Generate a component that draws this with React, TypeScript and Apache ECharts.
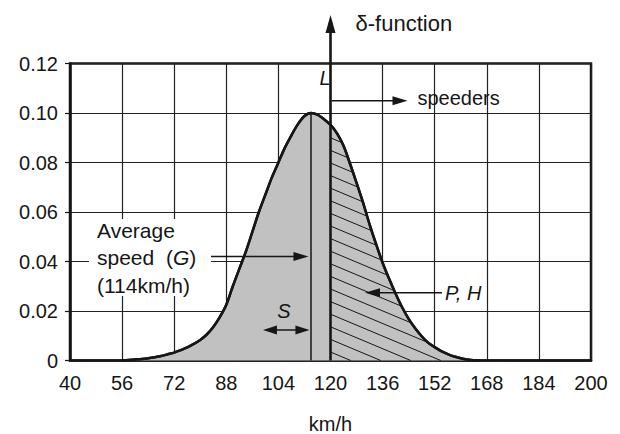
import React, { useEffect, useRef } from "react";
import * as echarts from "echarts";

// Speed (km/h) and probability density
const speeds = [
  56, 58, 60, 62, 64, 66, 68, 70, 72, 74, 76, 78, 80, 82, 84, 86, 88, 90, 92, 94,
  96, 98, 100, 102, 104, 106, 108, 110, 112, 114, 116, 118, 120, 122, 124, 126,
  128, 130, 132, 134, 136, 138, 140, 142, 144, 146, 148, 150, 152, 154, 156, 158,
  160, 162, 164, 166,
];
const density = [
  0, 0.0002, 0.0004, 0.0006, 0.0009, 0.0013, 0.0018, 0.0025, 0.0032, 0.0042,
  0.0053, 0.0067, 0.0083, 0.0105, 0.0135, 0.0175, 0.0225, 0.03, 0.037, 0.044,
  0.052, 0.06, 0.067, 0.074, 0.08, 0.086, 0.091, 0.0955, 0.0988, 0.1, 0.0993,
  0.0975, 0.0952, 0.0918, 0.0868, 0.0795, 0.0718, 0.0638, 0.055, 0.047, 0.0395,
  0.033, 0.027, 0.0215, 0.0168, 0.013, 0.0098, 0.0072, 0.0054, 0.0038, 0.0026,
  0.0016, 0.0009, 0.0004, 0.0001, 0,
];
const xMin = 40;
const xMax = 200;
const xStep = 16;
const yMin = 0;
const yMax = 0.12;
const yStep = 0.02;
const averageSpeed = 114;
const peakDensity = 0.1;
const limitSpeed = 120;

const FONT = "'Liberation Sans', Arial, Helvetica, sans-serif";
const INK = "#161616";
const GRAY = "#c1c1c1";

export default function App() {
  const ref = useRef<HTMLDivElement>(null);

  useEffect(() => {
    const chart = echarts.init(ref.current!, null, { renderer: "svg" });
    const curve = speeds.map((s, i) => [s, density[i]]);
    const hatchCurve = curve.filter(([s]) => s >= limitSpeed);

    const renderHatch = (_params: any, api: any) => {
      const pts = hatchCurve.map(([s, v]) => api.coord([s, v]) as number[]);
      const [xs, yBase] = api.coord([limitSpeed, 0]) as number[];
      const curveYAt = (x: number) => {
        for (let i = 0; i < pts.length - 1; i++) {
          const [xa, ya] = pts[i];
          const [xb, yb] = pts[i + 1];
          if (x >= xa && x <= xb) return ya + ((yb - ya) * (x - xa)) / (xb - xa);
        }
        return yBase;
      };
      const m = 0.42;
      const gap = 12.6;
      const children: any[] = [];
      for (let c = yBase - 8.5; c > curveYAt(xs) + 1; c -= gap) {
        let x = xs;
        let xe = xs;
        while (x < xs + 400) {
          const y = c + m * (x - xs);
          if (y >= yBase) {
            xe = xs + (yBase - c) / m;
            break;
          }
          if (y <= curveYAt(x)) {
            xe = x;
            break;
          }
          x += 0.25;
        }
        children.push({
          type: "line",
          shape: { x1: xs, y1: c, x2: xe, y2: c + m * (xe - xs) },
          style: { stroke: INK, lineWidth: 1 },
        });
      }
      return { type: "group", children };
    };

    chart.setOption({
      animation: false,
      grid: {
        left: 70,
        right: 29,
        top: 63.5,
        bottom: 73.5,
        containLabel: false,
        outerBoundsMode: "none",
        show: true,
        borderColor: INK,
        borderWidth: 2.5,
        backgroundColor: "transparent",
      },
      xAxis: {
        type: "value",
        min: xMin,
        max: xMax,
        interval: xStep,
        name: "km/h",
        nameLocation: "middle",
        nameGap: 53,
        nameTextStyle: { fontFamily: FONT, fontSize: 20, color: INK },
        axisLine: { show: true, onZero: false, lineStyle: { color: INK, width: 2.5 } },
        axisTick: { show: false },
        axisLabel: { fontFamily: FONT, fontSize: 20, color: INK, margin: 12 },
        splitLine: { show: true, lineStyle: { color: "#222", width: 1.2 } },
      },
      yAxis: {
        type: "value",
        min: yMin,
        max: yMax,
        interval: yStep,
        axisLine: { show: true, lineStyle: { color: INK, width: 2.5 } },
        axisTick: { show: true, length: 5, lineStyle: { color: INK, width: 1.2 } },
        axisLabel: {
          fontFamily: FONT,
          fontSize: 20,
          color: INK,
          margin: 12,
          formatter: (v: number) => (v === 0 ? "0" : v.toFixed(2)),
        },
        splitLine: { show: true, lineStyle: { color: "#222", width: 1.2 } },
      },
      series: [
        {
          type: "line",
          data: curve,
          smooth: 0.3,
          symbol: "none",
          lineStyle: { color: INK, width: 2.5 },
          areaStyle: { color: GRAY, opacity: 1 },
          z: 2,
          markLine: {
            silent: true,
            symbol: ["none", "none"],
            label: { show: false },
            lineStyle: { color: INK, width: 1.5, type: "solid" },
            data: [[{ coord: [averageSpeed, 0] }, { coord: [averageSpeed, peakDensity] }]],
          },
        },
        {
          type: "custom",
          coordinateSystem: "cartesian2d",
          data: [[limitSpeed, 0]],
          silent: true,
          z: 3,
          renderItem: renderHatch,
        },
        {
          type: "line",
          data: curve,
          smooth: 0.3,
          symbol: "none",
          lineStyle: { color: INK, width: 2.5 },
          z: 4,
        },
      ],
    });

    const toPx = (v: number[]) =>
      chart.convertToPixel({ xAxisIndex: 0, yAxisIndex: 0 }, v) as number[];
    const [x120, y0] = toPx([limitSpeed, 0]);
    const [x114] = toPx([averageSpeed, 0]);
    const top = 63.5;

    const txt = (x: number, y: number, text: string, extra: any = {}) => ({
      type: "text",
      x,
      y,
      z: 100,
      style: {
        text,
        fontFamily: FONT,
        fontSize: 20,
        fill: INK,
        verticalAlign: "middle",
        ...extra,
      },
    });
    const ln = (x1: number, y1: number, x2: number, y2: number, w = 1.5) => ({
      type: "line",
      z: 100,
      shape: { x1, y1, x2, y2 },
      style: { stroke: INK, lineWidth: w },
    });
    const head = (tx: number, ty: number, dir: "up" | "left" | "right", len = 15, half = 4.8) => {
      let pts: number[][];
      if (dir === "up") pts = [[tx, ty], [tx - half, ty + len], [tx + half, ty + len]];
      else if (dir === "right") pts = [[tx, ty], [tx - len, ty - half], [tx - len, ty + half]];
      else pts = [[tx, ty], [tx + len, ty - half], [tx + len, ty + half]];
      return { type: "polygon", z: 100, shape: { points: pts }, style: { fill: INK } };
    };

    const annY = 256.5;
    const phY = 292.7;
    const sY = 330;

    chart.setOption({
      graphic: [
        // delta-function arrow at the limit speed
        ln(x120, y0, x120, 31, 2.6),
        head(x120, 15, "up", 18, 5),
        txt(x120 + 25, 23, "δ-function", { fontSize: 22 }),
        txt(x120 - 11, top + 14.5, "L", { fontStyle: "italic" }),
        // speeders arrow
        ln(x120 + 1, 100.7, x120 + 64, 100.7, 1.5),
        head(x120 + 77, 100.7, "right", 15, 4.5),
        txt(x120 + 87, 98, "speeders"),
        // average speed label
        {
          type: "rect",
          z: 99,
          shape: { x: 89, y: 219, width: 122, height: 77 },
          style: { fill: "#fff" },
        },
        {
          type: "text",
          x: 97,
          y: 216.5,
          z: 100,
          style: {
            text: "Average\nspeed  ({i|G})\n(114km/h)",
            fontFamily: FONT,
            fontSize: 21,
            lineHeight: 27.5,
            fill: INK,
            verticalAlign: "top",
            rich: { i: { fontStyle: "italic", fontFamily: FONT, fontSize: 21, fill: INK } },
          },
        },
        ln(211, annY, x114 - 14, annY, 1.5),
        head(x114 - 2.5, annY, "right", 15, 4.5),
        // S spread
        txt(x114 - 27, 311, "S", { fontStyle: "italic", align: "center" }),
        ln(x114 - 45, sY, x114 - 4, sY, 1.5),
        head(x114 - 48, sY, "left", 14, 4.5),
        head(x114 - 1.5, sY, "right", 14, 4.5),
        // P, H label
        {
          type: "rect",
          z: 99,
          shape: { x: 443, y: 281, width: 43, height: 23 },
          style: { fill: "#fff" },
        },
        txt(445, phY, "P, H", { fontStyle: "italic" }),
        ln(379, phY, 442, phY, 1.5),
        head(365, phY, "left", 15, 4.5),
      ],
    });

    return () => chart.dispose();
  }, []);

  return (
    <div
      ref={ref}
      style={{ position: "fixed", left: 0, top: 0, width: 620, height: 434, background: "#fff" }}
    />
  );
}
